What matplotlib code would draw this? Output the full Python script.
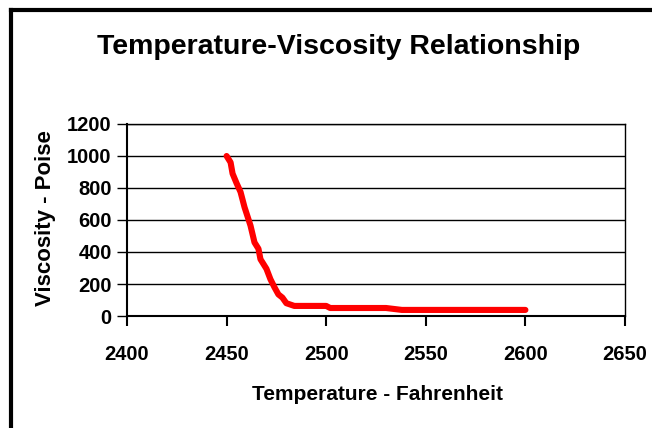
import matplotlib
matplotlib.use('Agg')
import matplotlib.pyplot as plt
from matplotlib.lines import Line2D

plt.rcParams['font.family'] = ['Liberation Sans', 'DejaVu Sans']
plt.rcParams['font.weight'] = 'bold'

# values
temp = [2450, 2452, 2453, 2455, 2457, 2459, 2462, 2464, 2466, 2467, 2470,
        2472, 2474, 2476, 2478, 2480, 2484, 2500, 2502, 2530, 2538, 2600]
visc = [1000, 960, 890, 830, 775, 680, 565, 460, 420, 355, 295,
        230, 180, 135, 115, 80, 63, 63, 50, 50, 38, 38]
xticks = [2400, 2450, 2500, 2550, 2600, 2650]
yticks = [0, 200, 400, 600, 800, 1000, 1200]

W, H = 652, 428
fig = plt.figure(figsize=(W / 100, H / 100), dpi=100)
ax = fig.add_axes([127 / W, 1 - 316 / H, (625 - 127) / W, (316 - 124) / H])

ax.plot(temp, visc, color='#ff0000', lw=4.4, solid_capstyle='round',
        solid_joinstyle='round', zorder=3)

ax.set_xlim(2400, 2650)
ax.set_ylim(0, 1200)
ax.set_xticks(xticks)
ax.set_yticks(yticks)
ax.yaxis.grid(True, color='black', lw=1)
ax.set_axisbelow(True)
for s in ax.spines.values():
    s.set_linewidth(1)
ax.spines['left'].set_linewidth(1.5)
ax.spines['bottom'].set_linewidth(1.5)
ax.tick_params(axis='x', direction='out', length=7, width=1.5, pad=14, labelsize=14.5)
ax.tick_params(axis='y', direction='out', length=7, width=1, pad=4, labelsize=14.5)
for lab in ax.get_xticklabels() + ax.get_yticklabels():
    lab.set_fontweight('bold')

ax.set_xlabel('Temperature - Fahrenheit', fontsize=15, fontweight='bold', va='center')
ax.xaxis.set_label_coords((377 - 127) / 498, (316 - 395) / 192)
ax.set_ylabel('Viscosity - Poise', fontsize=16, fontweight='bold', va='center')
ax.yaxis.set_label_coords((45 - 127) / 498, (316 - 218) / 192)

fig.text(339 / W, 1 - 47 / H, 'Temperature-Viscosity Relationship', ha='center',
         va='center', fontsize=20.5, fontweight='bold')

# outer chart frame (left and top edges visible)
fig.add_artist(Line2D([11 / W, 11 / W], [0, 1 - 10 / H], transform=fig.transFigure,
                      color='black', lw=3))
fig.add_artist(Line2D([11 / W, 1], [1 - 10 / H, 1 - 10 / H], transform=fig.transFigure,
                      color='black', lw=3, solid_capstyle='projecting'))

fig.savefig('out.png', dpi=100)
